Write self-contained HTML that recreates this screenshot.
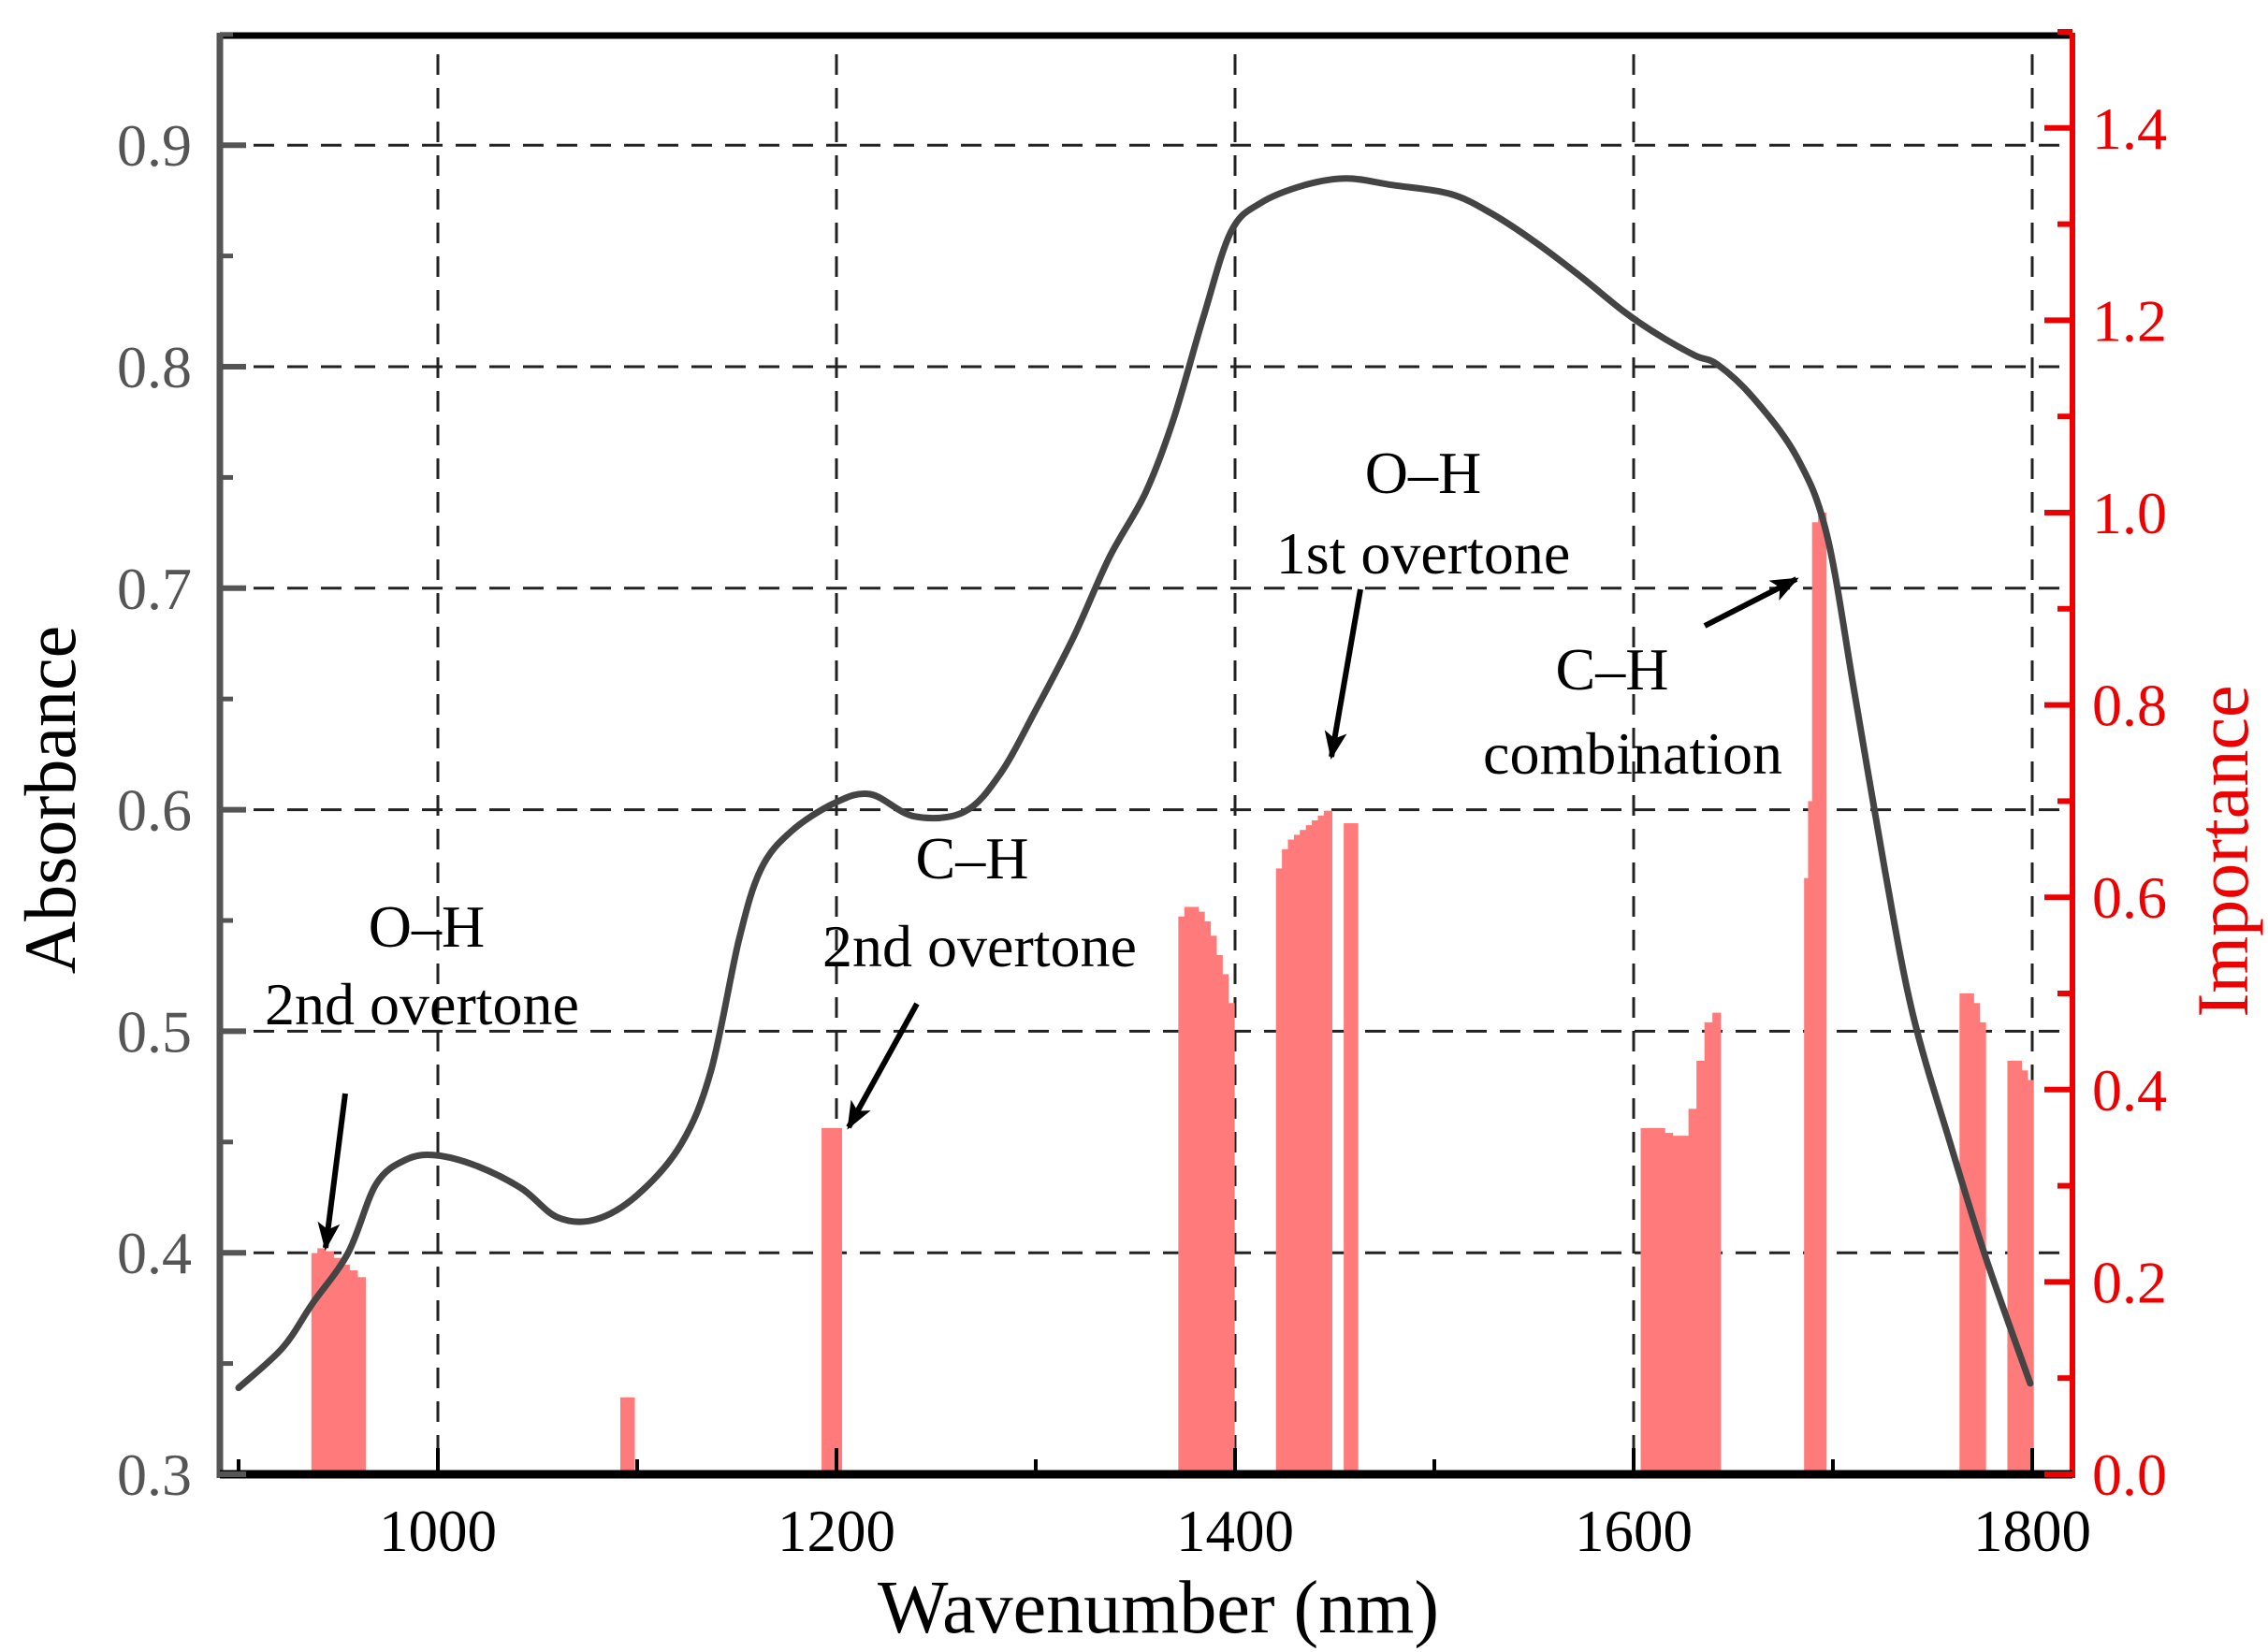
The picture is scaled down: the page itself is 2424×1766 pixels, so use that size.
<!DOCTYPE html>
<html><head><meta charset="utf-8"><style>
html,body{margin:0;padding:0;background:#fff;}
svg{display:block;font-family:"Liberation Serif",serif;}
</style></head><body>
<svg id="chart" width="2424" height="1766" viewBox="0 0 2424 1766" xmlns="http://www.w3.org/2000/svg">
<g id="grid"></g>
<g id="bars"></g>
<g id="line"></g>
<g id="axes"></g>
</svg>
<script>
const absX=[900,922,937,955,969,984,999,1020,1042,1060,1079,1100,1122,1137,1151,1162,1177,1199,1217,1239,1264,1282,1300,1319,1337,1355,1369,1384,1398,1413,1435,1456,1479,1508,1529,1551,1573,1595,1613,1631,1642,1660,1682,1697,1711,1726,1740,1759,1777,1799];
const absY=[0.339,0.357,0.377,0.400,0.431,0.442,0.444,0.439,0.429,0.416,0.415,0.426,0.449,0.482,0.541,0.573,0.590,0.603,0.607,0.597,0.599,0.616,0.645,0.678,0.714,0.743,0.776,0.822,0.861,0.874,0.882,0.885,0.882,0.878,0.869,0.856,0.841,0.825,0.814,0.805,0.801,0.786,0.759,0.724,0.652,0.573,0.508,0.449,0.397,0.341];
const barX=[937,940,944,948,952,956,960,1092,1095,1193,1196,1199,1372,1375,1378,1381,1384,1387,1390,1393,1396,1421,1424,1427,1430,1433,1436,1439,1442,1445,1455,1458,1604,1608,1612,1616,1620,1624,1628,1632,1636,1640,1686,1688,1690,1693,1764,1767,1770,1773,1788,1791,1794,1797];
const barV=[0.23,0.235,0.232,0.225,0.218,0.212,0.205,0.08,0.08,0.36,0.36,0.36,0.58,0.59,0.59,0.585,0.575,0.56,0.54,0.52,0.49,0.63,0.65,0.66,0.665,0.67,0.675,0.68,0.685,0.69,0.677,0.677,0.36,0.36,0.36,0.355,0.352,0.352,0.38,0.43,0.47,0.48,0.62,0.7,0.99,1.0,0.5,0.5,0.49,0.47,0.43,0.43,0.42,0.41];
const xTicks=[1000,1200,1400,1600,1800];
const xMinor=[900,1100,1300,1500,1700];
const yTicks=[0.3,0.4,0.5,0.6,0.7,0.8,0.9];
const yTickLabels=["0.3","0.4","0.5","0.6","0.7","0.8","0.9"];
const rTicks=[0,0.2,0.4,0.6,0.8,1.0,1.2,1.4];
const rTickLabels=["0.0","0.2","0.4","0.6","0.8","1.0","1.2","1.4"];
const NS="http://www.w3.org/2000/svg";
const L=235,R=2215,T=38,B=1576;
const X=v=>468+(v-1000)*(2172-468)/800;
const Y=v=>B-(v-0.3)*2368;
const YR=v=>B-v*1028;
function mk(p,tag,a,txt){const e=document.createElementNS(NS,tag);for(const k in a)e.setAttribute(k,a[k]);if(txt!=null)e.textContent=txt;p.appendChild(e);return e;}
const g=document.getElementById('grid'),bg=document.getElementById('bars'),lg=document.getElementById('line'),ax=document.getElementById('axes');
xTicks.forEach(v=>{const e=mk(g,'line',{x1:X(v),x2:X(v),y1:T+20,y2:B,stroke:'#222','stroke-width':3,'stroke-dasharray':'22 14'});

});
yTicks.slice(1).forEach(v=>{const e=mk(g,'line',{x1:L,x2:R-10,y1:Y(v),y2:Y(v),stroke:'#222','stroke-width':3,'stroke-dasharray':'22 14'});

});
barX.forEach((x,i)=>{const y=YR(barV[i]);const e=mk(bg,'rect',{x:X(x)-1,y:y,width:X(x+4.3)-X(x),height:B-y,fill:'#ff7b7b'});

});
const P=absX.map((x,i)=>[X(x),Y(absY[i])]);
let d='M'+P[0][0].toFixed(1)+','+P[0][1].toFixed(1);
for(let i=0;i<P.length-1;i++){const p0=P[Math.max(0,i-1)],p1=P[i],p2=P[i+1],p3=P[Math.min(P.length-1,i+2)];
const c1=[p1[0]+(p2[0]-p0[0])/6,p1[1]+(p2[1]-p0[1])/6],c2=[p2[0]-(p3[0]-p1[0])/6,p2[1]-(p3[1]-p1[1])/6];
d+='C'+c1.map(n=>n.toFixed(1)).join(',')+' '+c2.map(n=>n.toFixed(1)).join(',')+' '+p2.map(n=>n.toFixed(1)).join(',');}
const pl=mk(lg,'path',{d:d,fill:'none',stroke:'#444','stroke-width':7,'stroke-linejoin':'round','stroke-linecap':'round'});


mk(ax,'line',{x1:L,x2:R,y1:T,y2:T,stroke:'#000','stroke-width':7});
mk(ax,'line',{x1:L,x2:L,y1:T-3,y2:B+4,stroke:'#555','stroke-width':7});
mk(ax,'line',{x1:R,x2:R,y1:T-3,y2:B+4,stroke:'#e00','stroke-width':6});
mk(ax,'line',{x1:L,x2:R,y1:B,y2:B,stroke:'#000','stroke-width':9});
xTicks.forEach(v=>{mk(ax,'line',{x1:X(v),x2:X(v),y1:B,y2:B-28,stroke:'#000','stroke-width':4});
const t=mk(ax,'text',{x:X(v),y:B+82,'text-anchor':'middle','font-size':63,fill:'#000'},String(v));

});
xMinor.forEach(v=>{if(X(v)>L)mk(ax,'line',{x1:X(v),x2:X(v),y1:B,y2:B-16,stroke:'#000','stroke-width':4});});
yTicks.forEach((v,i)=>{mk(ax,'line',{x1:L,x2:L+28,y1:Y(v),y2:Y(v),stroke:'#555','stroke-width':6});
mk(ax,'line',{x1:L,x2:L+14,y1:Y(v+0.05),y2:Y(v+0.05),stroke:'#555','stroke-width':5});
const t=mk(ax,'text',{x:205,y:Y(v)+22,'text-anchor':'end','font-size':64,fill:'#555'},yTickLabels[i]);

});
rTicks.forEach((v,i)=>{mk(ax,'line',{x1:R,x2:R-30,y1:YR(v),y2:YR(v),stroke:'#e00','stroke-width':6});
mk(ax,'line',{x1:R,x2:R-16,y1:YR(v+0.1),y2:YR(v+0.1),stroke:'#e00','stroke-width':6});
const t=mk(ax,'text',{x:2236,y:YR(v)+22,'text-anchor':'start','font-size':64,fill:'#e00'},rTickLabels[i]);

});
</script>
<svg style="position:absolute;left:0;top:0" width="2424" height="1766">
<defs><marker id="ah2" markerWidth="5" markerHeight="4" refX="4.5" refY="2" orient="auto"><path d="M0,0 L5,2 L0,4 L1.2,2 Z" fill="#000"/></marker></defs>
<text x="1238" y="1745" text-anchor="middle" font-family="Liberation Serif, serif" font-size="80">Wavenumber (nm)</text>
<text transform="translate(80,855) rotate(-90)" text-anchor="middle" font-family="Liberation Serif, serif" font-size="78">Absorbance</text>
<text transform="translate(2402,910) rotate(-90)" text-anchor="middle" font-family="Liberation Serif, serif" font-size="78" fill="#e00">Importance</text>
<g font-family="Liberation Serif, serif" font-size="64" text-anchor="middle" fill="#000">
<text x="456" y="1012">O–H</text>
<text x="451" y="1095">2nd overtone</text>
<text x="1039" y="939">C–H</text>
<text x="1047" y="1033">2nd overtone</text>
<text x="1521" y="527">O–H</text>
<text x="1521" y="613">1st overtone</text>
<text x="1723" y="737">C–H</text>
<text x="1745" y="827">combination</text>
</g>
<g stroke="#000" stroke-width="6" marker-end="url(#ah2)">
<line x1="369" y1="1169" x2="348" y2="1334"/>
<line x1="980" y1="1073" x2="907" y2="1205"/>
<line x1="1454" y1="630" x2="1423" y2="809"/>
<line x1="1822" y1="669" x2="1920" y2="619"/>
</g>
</svg>
</body></html>
